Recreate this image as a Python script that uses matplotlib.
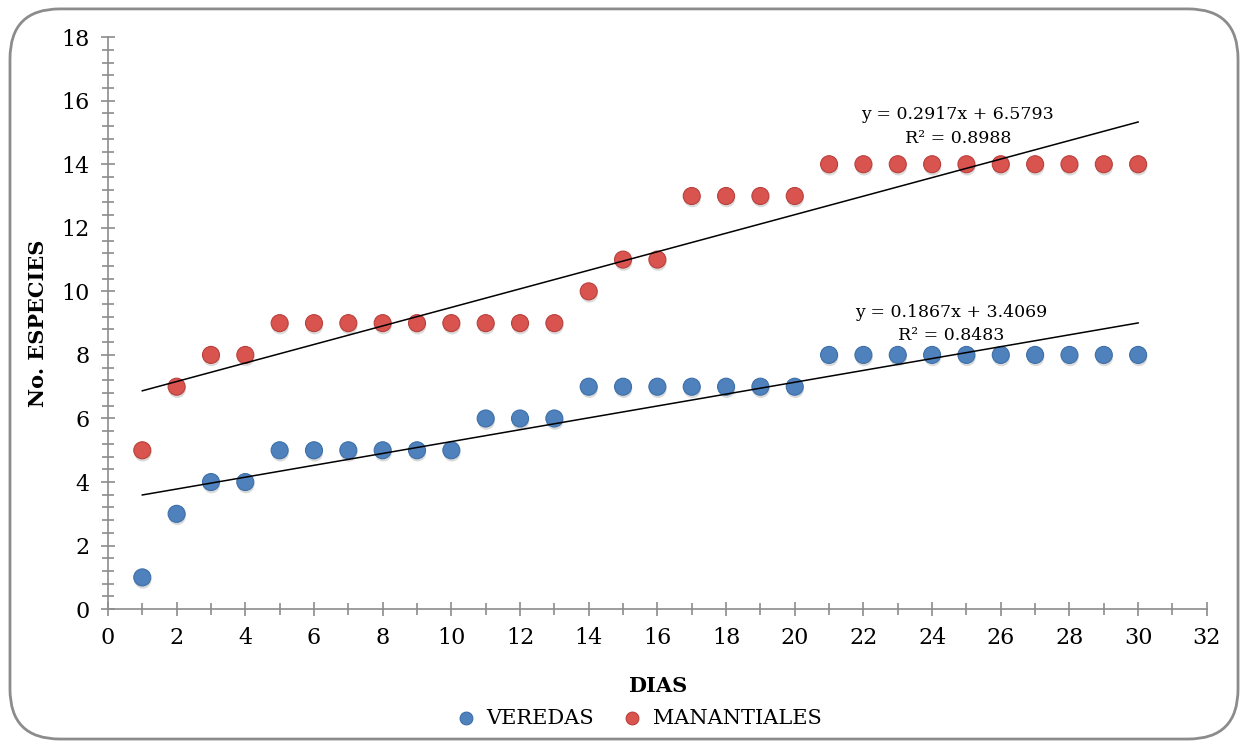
import matplotlib
matplotlib.use("Agg")
import matplotlib.pyplot as plt
import matplotlib.patheffects as pe
from matplotlib.patches import FancyBboxPatch
from matplotlib.ticker import MultipleLocator
import numpy as np

dias = list(range(1, 31))
veredas = [1, 3, 4, 4, 5, 5, 5, 5, 5, 5, 6, 6, 6, 7, 7, 7, 7, 7, 7, 7,
           8, 8, 8, 8, 8, 8, 8, 8, 8, 8]
manantiales = [5, 7, 8, 8, 9, 9, 9, 9, 9, 9, 9, 9, 9, 10, 11, 11, 13, 13, 13, 13,
               14, 14, 14, 14, 14, 14, 14, 14, 14, 14]
eq_veredas = ["y = 0.1867x + 3.4069", "R² = 0.8483"]
eq_manantiales = ["y = 0.2917x + 6.5793", "R² = 0.8988"]

plt.rcParams['font.family'] = ['DejaVu Serif']

fig = plt.figure(figsize=(12.48, 7.42), dpi=100)
ax = fig.add_axes([0.0865, 0.179, 0.8805, 0.771])

# rounded frame round the chart
frame = FancyBboxPatch((0.008, 0.004), 0.984, 0.984, boxstyle="round,pad=0,rounding_size=0.04",
                       transform=fig.transFigure, facecolor='white', edgecolor='#8c8c8c',
                       linewidth=2, mutation_aspect=1248 / 742, zorder=-10)
fig.patches.append(frame)

shadow = [pe.SimplePatchShadow(offset=(0.5, -2), shadow_rgbFace='#888888', alpha=0.3), pe.Normal()]

x = np.array(dias)
for ys, col, edge, lab in [(veredas, '#4f81bd', '#3d6fa8', 'VEREDAS'),
                           (manantiales, '#d9534f', '#b8403c', 'MANANTIALES')]:
    sc = ax.scatter(x, ys, s=150, color=col, edgecolors=edge, linewidths=0.8, zorder=3, label=lab)
    sc.set_path_effects(shadow)
    m, b = np.polyfit(x, ys, 1)
    ax.plot([x[0], x[-1]], [m * x[0] + b, m * x[-1] + b], color='black', lw=1.1, zorder=4)

ax.text(24.75, 15.55, eq_manantiales[0], ha='center', va='center', fontsize=12.5)
ax.text(24.75, 14.8, eq_manantiales[1], ha='center', va='center', fontsize=12.5)
ax.text(24.55, 9.35, eq_veredas[0], ha='center', va='center', fontsize=12.5)
ax.text(24.55, 8.6, eq_veredas[1], ha='center', va='center', fontsize=12.5)

ax.set_xlim(0, 32)
ax.set_ylim(0, 18)
ax.xaxis.set_major_locator(MultipleLocator(2))
ax.xaxis.set_minor_locator(MultipleLocator(1))
ax.yaxis.set_major_locator(MultipleLocator(2))
ax.yaxis.set_minor_locator(MultipleLocator(0.4))
for s in ['top', 'right']:
    ax.spines[s].set_visible(False)
for s in ['left', 'bottom']:
    ax.spines[s].set_color('#8c8c8c')
    ax.spines[s].set_linewidth(1.2)
ax.tick_params(which='major', direction='inout', length=10, width=1.2, color='#8c8c8c',
               labelsize=16, pad=8)
ax.tick_params(which='minor', direction='inout', length=8, width=1.2, color='#8c8c8c')

ax.set_xlabel("DIAS", fontsize=15, fontweight='bold', labelpad=19)
ax.set_ylabel("No. ESPECIES", fontsize=15, fontweight='bold', labelpad=10)

leg = ax.legend(loc='center', bbox_to_anchor=(0.478, -0.191), ncol=2, frameon=False,
                fontsize=15, handletextpad=0.0, columnspacing=0.8, markerscale=0.75)
for h in leg.legend_handles:
    h.set_path_effects([])

fig.savefig("out.png", dpi=100)
